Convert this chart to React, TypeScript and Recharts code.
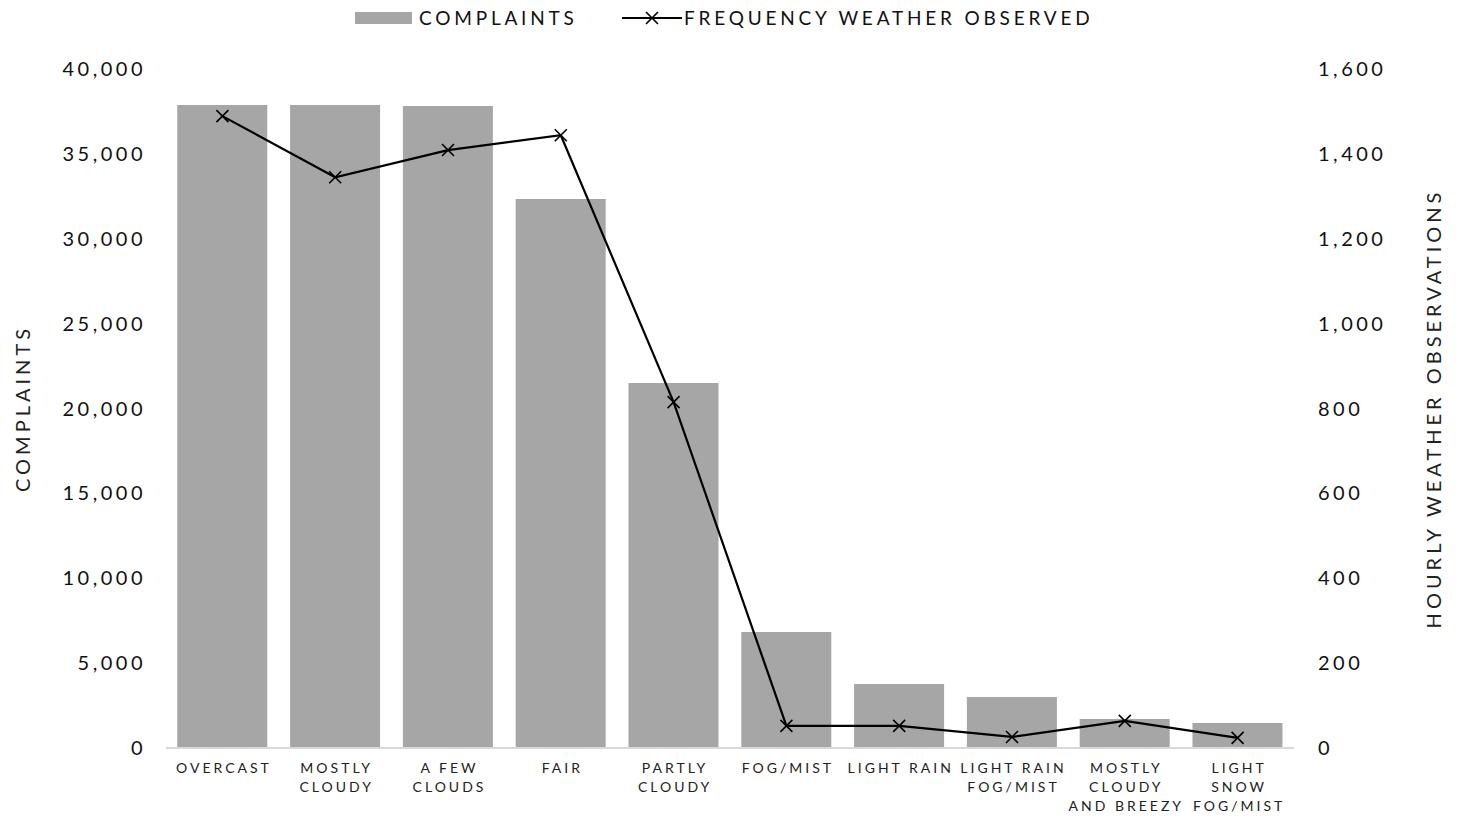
import React from "react";
import {
  ComposedChart,
  Bar,
  Line,
  XAxis,
  YAxis,
  Legend,
} from "recharts";

const categories = [
  "OVERCAST",
  "MOSTLY CLOUDY",
  "A FEW CLOUDS",
  "FAIR",
  "PARTLY CLOUDY",
  "FOG/MIST",
  "LIGHT RAIN",
  "LIGHT RAIN FOG/MIST",
  "MOSTLY CLOUDY AND BREEZY",
  "LIGHT SNOW FOG/MIST",
];

// how each category label wraps under the axis
const categoryLines = [
  ["OVERCAST"],
  ["MOSTLY", "CLOUDY"],
  ["A FEW", "CLOUDS"],
  ["FAIR"],
  ["PARTLY", "CLOUDY"],
  ["FOG/MIST"],
  ["LIGHT RAIN"],
  ["LIGHT RAIN", "FOG/MIST"],
  ["MOSTLY", "CLOUDY", "AND BREEZY"],
  ["LIGHT", "SNOW", "FOG/MIST"],
];

const complaints = [37880, 37880, 37820, 32340, 21500, 6830, 3770, 3000, 1710, 1470];
const weatherObserved = [1489, 1345, 1409, 1444, 815, 52, 52, 26, 64, 24];

const leftTicks = [0, 5000, 10000, 15000, 20000, 25000, 30000, 35000, 40000];
const rightTicks = [0, 200, 400, 600, 800, 1000, 1200, 1400, 1600];

const data = categories.map((name, i) => ({
  name,
  complaints: complaints[i],
  observed: weatherObserved[i],
}));

const FONT = "Lato, 'Open Sans', sans-serif";
const fmt = (v: number) => v.toLocaleString("en-US");

const CategoryTick = ({ x, y, payload, index }: any) => {
  const lines = categoryLines[index] || [payload.value];
  return (
    <g transform={`translate(${x},${y})`}>
      {lines.map((ln: string, i: number) => (
        <text
          key={i}
          x={1.5}
          y={17 + i * 19}
          textAnchor="middle"
          fontFamily={FONT}
          fontSize={14}
          letterSpacing={3}
          fill="#222"
        >
          {ln}
        </text>
      ))}
    </g>
  );
};

const XMark = ({ cx, cy, size = 6 }: any) => {
  if (cx == null || cy == null) return null;
  return (
    <path
      d={`M${cx - size},${cy - size}L${cx + size},${cy + size}M${cx - size},${cy + size}L${cx + size},${cy - size}`}
      stroke="#000"
      strokeWidth={1.6}
      fill="none"
    />
  );
};

const LegendContent = () => (
  <svg width={1457} height={36} style={{ display: "block" }}>
    <rect x={355} y={12} width={57} height={12} fill="#A6A6A6" />
    <text
      x={419}
      y={25}
      fontFamily={FONT}
      fontSize={19}
      letterSpacing={3.8}
      fill="#111"
    >
      COMPLAINTS
    </text>
    <line x1={622} y1={18} x2={682} y2={18} stroke="#000" strokeWidth={2} />
    <XMark cx={652} cy={18} size={6} />
    <text
      x={684}
      y={25}
      fontFamily={FONT}
      fontSize={19}
      letterSpacing={3.8}
      fill="#111"
    >
      FREQUENCY WEATHER OBSERVED
    </text>
  </svg>
);

const AxisTitle = ({ x, y, text }: { x: number; y: number; text: string }) => (
  <text
    x={x}
    y={y}
    transform={`rotate(-90, ${x}, ${y})`}
    textAnchor="middle"
    dominantBaseline="central"
    fontFamily={FONT}
    fontSize={20}
    letterSpacing={4}
    fill="#222"
  >
    {text}
  </text>
);

export default function App() {
  return (
    <div style={{ position: "absolute", left: 0, top: 0, background: "#fff" }}>
      <ComposedChart
        width={1457}
        height={819}
        data={data}
        margin={{ top: 33, right: 63, bottom: 1, left: 66 }}
        barCategoryGap="10%"
      >
        <Legend
          verticalAlign="top"
          align="left"
          wrapperStyle={{ top: 0, left: 0, width: 1457 }}
          content={<LegendContent />}
        />
        <XAxis
          dataKey="name"
          interval={0}
          tick={<CategoryTick />}
          tickLine={false}
          axisLine={{ stroke: "#D9D9D9", strokeWidth: 2 }}
          height={70}
        />
        <YAxis
          yAxisId="left"
          width={100}
          domain={[0, 40000]}
          ticks={leftTicks}
          tickFormatter={fmt}
          axisLine={false}
          tickLine={false}
          tickSize={0}
          tickMargin={20}
          tick={{ fontFamily: FONT, fontSize: 20, fill: "#111", letterSpacing: 3.5 }}
          label={({ viewBox }: any) => (
            <AxisTitle x={22} y={viewBox.y + viewBox.height / 2} text="COMPLAINTS" />
          )}
        />
        <YAxis
          yAxisId="right"
          orientation="right"
          width={100}
          domain={[0, 1600]}
          ticks={rightTicks}
          tickFormatter={fmt}
          axisLine={false}
          tickLine={false}
          tickSize={0}
          tickMargin={24}
          tick={{ fontFamily: FONT, fontSize: 20, fill: "#111", letterSpacing: 3.5, textAnchor: "start" }}
          label={({ viewBox }: any) => (
            <AxisTitle
              x={1433}
              y={viewBox.y + viewBox.height / 2}
              text="HOURLY WEATHER OBSERVATIONS"
            />
          )}
        />
        <Bar
          yAxisId="left"
          dataKey="complaints"
          name="COMPLAINTS"
          fill="#A6A6A6"
          isAnimationActive={false}
        />
        <Line
          yAxisId="right"
          dataKey="observed"
          name="FREQUENCY WEATHER OBSERVED"
          stroke="#000"
          strokeWidth={2.2}
          dot={(p: any) => <XMark key={p.index} cx={p.cx} cy={p.cy} size={6} />}
          activeDot={false}
          isAnimationActive={false}
        />
      </ComposedChart>
    </div>
  );
}
